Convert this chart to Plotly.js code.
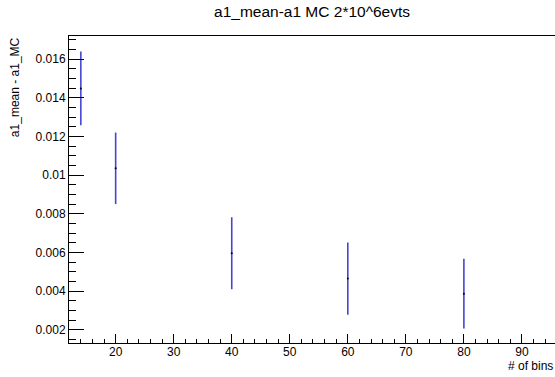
<!DOCTYPE html>
<html>
<head>
<meta charset="utf-8">
<script src="https://cdn.plot.ly/plotly-3.0.1.min.js"></script>
<style>html,body{margin:0;padding:0;background:#fff;}#chart{width:555px;height:377px;}</style>
</head>
<body>
<div id="chart"></div>
<script>
var nBins = [14, 20, 40, 60, 80];
var meanDiff = [0.01448, 0.01035, 0.00596, 0.00465, 0.00387];
var meanErr = [0.00191, 0.00185, 0.00186, 0.00187, 0.00180];

var chartTitle = "a1_mean-a1 MC 2*10^6evts";
var xTitle = "# of bins";
var yTitle = "a1_mean - a1_MC";

var font = "Liberation Sans, Arial, sans-serif";

var trace = {
  x: nBins,
  y: meanDiff,
  type: "scatter",
  mode: "markers",
  marker: {color: "#000", size: 2},
  error_y: {type: "data", array: meanErr, visible: true, color: "rgb(70,70,210)", thickness: 1.6, width: 0},
  hoverinfo: "none"
};

var layout = {
  width: 555, height: 377,
  margin: {l: 69, r: 0, t: 36, b: 34},
  paper_bgcolor: "#fff", plot_bgcolor: "#fff",
  showlegend: false,
  font: {family: font, size: 12, color: "#000"},
  title: {text: chartTitle, font: {family: font, size: 15.5, color: "#000"}, x: 0.5, xref: "paper", y: 0.97, yref: "container", yanchor: "middle"},
  xaxis: {
    range: [11.96, 95.7], showgrid: false, zeroline: false,
    showline: true, linecolor: "#000", linewidth: 1, mirror: true,
    ticks: "inside", ticklen: 9, tickwidth: 1, tickcolor: "#000",
    tick0: 0, dtick: 10, ticklabelstandoff: -2,
    minor: {ticks: "inside", ticklen: 4.5, tickwidth: 1, tickcolor: "#000", tick0: 0, dtick: 2},
    tickfont: {family: font, size: 12, color: "#000"}
  },
  yaxis: {
    range: [0.00132, 0.01719], showgrid: false, zeroline: false,
    showline: true, linecolor: "#000", linewidth: 1, mirror: false,
    ticks: "inside", ticklen: 14.5, tickwidth: 1, tickcolor: "#000",
    tick0: 0, dtick: 0.002,
    minor: {ticks: "inside", ticklen: 7.3, tickwidth: 1, tickcolor: "#000", tick0: 0, dtick: 0.0005},
    tickfont: {family: font, size: 12, color: "#000"}
  },
  annotations: [
    {text: xTitle, xref: "paper", yref: "paper", x: 1, y: -0.076, xanchor: "right", yanchor: "middle", showarrow: false, font: {family: font, size: 12, color: "#000"}},
    {text: yTitle, xref: "paper", yref: "paper", x: -0.111, y: 1.003, xanchor: "center", yanchor: "top", textangle: -90, showarrow: false, font: {family: font, size: 12, color: "#000"}}
  ]
};

Plotly.newPlot("chart", [trace], layout, {staticPlot: true, displayModeBar: false});
</script>
</body>
</html>
